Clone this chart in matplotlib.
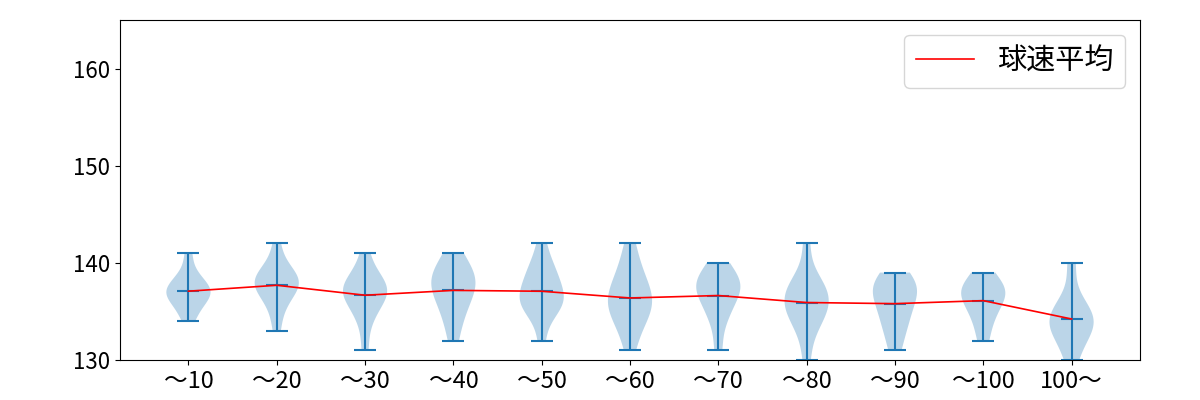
import matplotlib
matplotlib.use("Agg")
import matplotlib.pyplot as plt
import numpy as np

plt.rcParams['font.family'] = ['Noto Sans CJK JP', 'DejaVu Sans']

# pitch-count bins and the pitch speeds (km/h)
labels = ["〜10", "〜20", "〜30", "〜40", "〜50", "〜60", "〜70", "〜80", "〜90", "〜100", "100〜"]
speeds_10 = [134, 135, 136, 136, 137, 137, 137, 137, 138, 138, 139, 141]
speeds_20 = [133, 135, 136, 137, 137, 138, 138, 138, 138, 139, 139, 140, 142]
speeds_30 = [131, 134, 135, 136, 137, 137, 137, 137, 138, 138, 139, 141]
speeds_40 = [132, 134, 135, 136, 137, 137, 138, 138, 139, 139, 140, 141]
speeds_50 = [132, 135, 135, 136, 136, 136, 137, 137, 138, 139, 139, 140, 142]
speeds_60 = [131, 133, 134, 135, 135, 136, 136, 137, 137, 138, 139, 140, 142]
speeds_70 = [131, 134, 135, 136, 137, 137, 138, 138, 138, 139, 140]
speeds_80 = [130, 133, 134, 135, 135, 136, 136, 137, 137, 138, 138, 142]
speeds_90 = [131, 133, 134, 135, 136, 137, 137, 138, 138, 139]
speeds_100 = [132, 134, 135, 136, 137, 137, 137, 138, 139]
speeds_over = [130, 132, 133, 134, 134, 134, 135, 136, 140]

data = [speeds_10, speeds_20, speeds_30, speeds_40, speeds_50, speeds_60,
        speeds_70, speeds_80, speeds_90, speeds_100, speeds_over]
positions = np.arange(1, len(data) + 1)
means = [np.mean(d) for d in data]

fig, ax = plt.subplots(figsize=(12, 4), dpi=100)
ax.violinplot(data, positions=positions, showmeans=True)
ax.plot(positions, means, color="red", linewidth=1.2, label="球速平均")

ax.set_ylim(130, 165)
ax.set_yticks([130, 140, 150, 160])
ax.set_xticks(positions)
ax.set_xticklabels(labels, fontsize=17)
ax.tick_params(axis="y", labelsize=16)
ax.legend(loc="upper right", fontsize=21)

fig.subplots_adjust(left=0.1, right=0.95, bottom=0.1, top=0.95)
fig.savefig("out.png")
